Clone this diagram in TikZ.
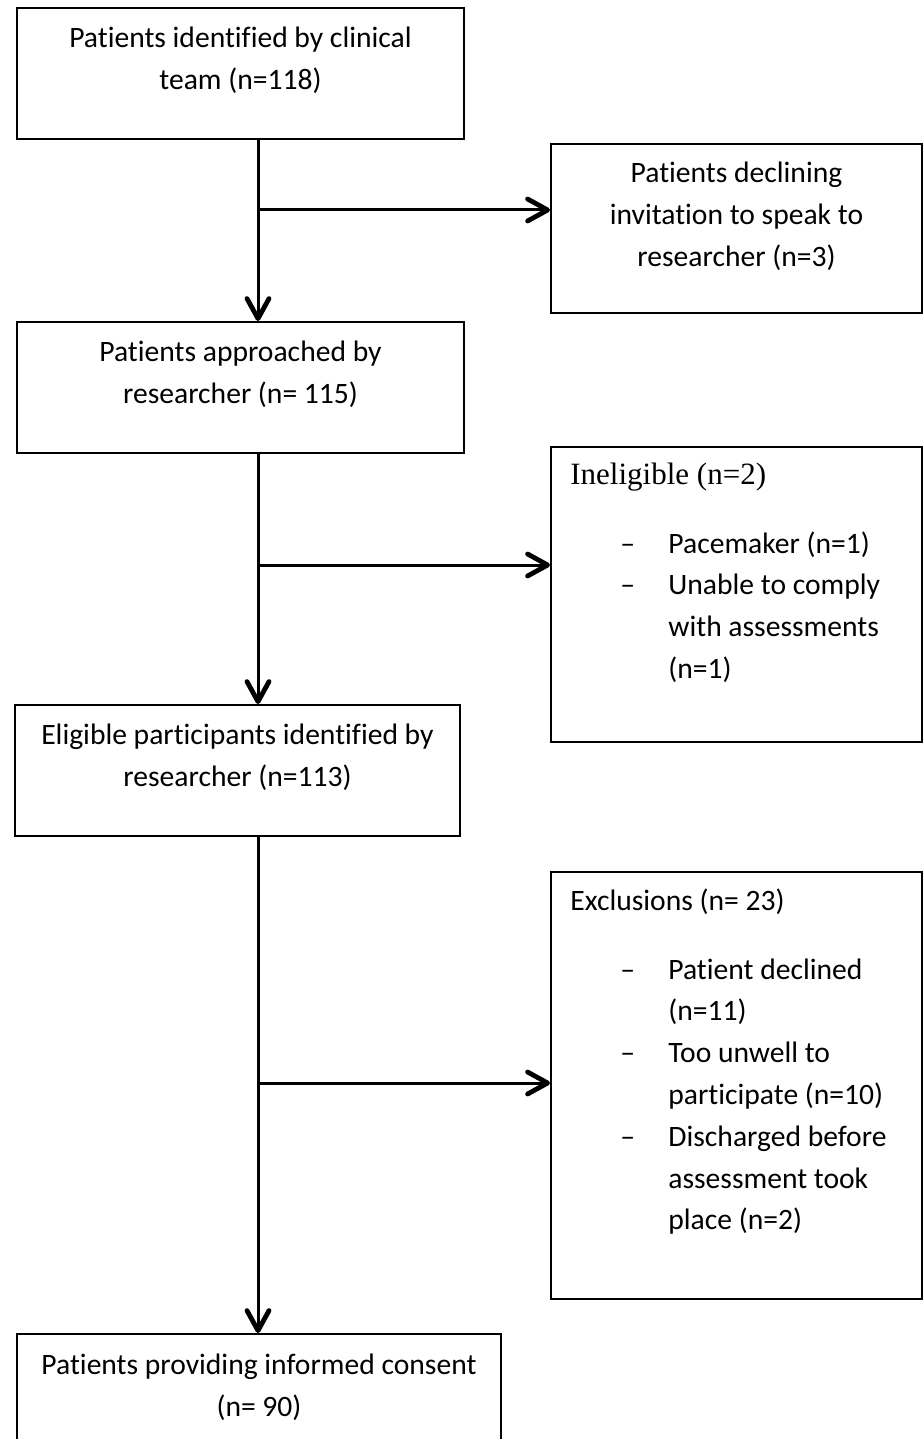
\documentclass[tikz,border=0pt]{standalone}
\usepackage{fontspec}
\setmainfont{Carlito}[Ligatures={NoCommon}]
\newfontfamily\titlefont{Liberation Serif}
\usetikzlibrary{arrows.meta,positioning}

\tikzset{
    flowbox/.style={draw, line width=1pt, inner sep=0pt, anchor=north west},
    boxtext/.style={inner sep=0pt, anchor=north, align=center,
        font=\fontsize{14.8pt}{20.9pt}\selectfont},
    titletext/.style={inner sep=0pt, font=\titlefont\fontsize{15.5pt}{20.9pt}\selectfont},
    listtext/.style={inner sep=0pt, font=\fontsize{14.8pt}{20.9pt}\selectfont},
    conn/.style={line width=1.5pt,
        -{Straight Barb[length=10pt,width=11pt,line width=2.4pt,round]}}
}
\newenvironment{dashlist}{\begin{tabular}[t]{@{}p{24pt}@{}l@{}}}{\end{tabular}}

\begin{document}
\begin{tikzpicture}[x=0.5pt,y=-0.5pt]
        \useasboundingbox (0,0) rectangle (923,1439);
        \clip (0,0) rectangle (923,1439);
        % The boxes of the main column
        \node[flowbox, minimum width=223.5pt, minimum height=65.5pt] (box1) at (16,7) {};
        \node[flowbox, minimum width=223.5pt, minimum height=65.5pt] (box3) at (16,321) {};
        \node[flowbox, minimum width=222.5pt, minimum height=65.5pt] (box5) at (14,704) {};
        \node[flowbox, minimum width=242pt, minimum height=70pt] (box7) at (16,1333) {};
        % The boxes on the right
        \node[flowbox, minimum width=185.5pt, minimum height=84.5pt] (box2) at (550,143) {};
        \node[flowbox, minimum width=185.5pt, minimum height=147.5pt] (box4) at (550,446) {};
        \node[flowbox, minimum width=185.5pt, minimum height=213.5pt] (box6) at (550,871) {};
        % Texts of the main column
        \node[boxtext, below=10pt of box1.north] (txt1)
            {Patients identified by clinical\\team (n=118)};
        \node[boxtext, below=10pt of box3.north] (txt3)
            {Patients approached by\\researcher (n= 115)};
        \node[boxtext, below=10pt of box5.north] (txt5)
            {Eligible participants identified by\\researcher (n=113)};
        \node[boxtext, below=10.5pt of box7.north] (txt7)
            {Patients providing informed consent\\(n= 90)};
        % Texts on the right
        \node[boxtext, below=9.5pt of box2.north] (txt2)
            {Patients declining\\invitation to speak to\\researcher (n=3)};
        \node[titletext, below right=8.5pt and 10pt of box4.north west] (ttl4)
            {Ineligible (n=2)};
        \node[listtext, below right=53.5pt and 35pt of box4.north west, anchor=base west] (lst4)
            {\begin{dashlist}
             -- & Pacemaker (n=1)\\
             -- & Unable to comply\\
                & with assessments\\
                & (n=1)
             \end{dashlist}};
        \node[boxtext, below right=8.5pt and 10pt of box6.north west, anchor=north west] (ttl6)
            {Exclusions (n= 23)};
        \node[listtext, below right=54pt and 35pt of box6.north west, anchor=base west] (lst6)
            {\begin{dashlist}
             -- & Patient declined\\
                & (n=11)\\
             -- & Too unwell to\\
                & participate (n=10)\\
             -- & Discharged before\\
                & assessment took\\
                & place (n=2)
             \end{dashlist}};
        % The spine and its branches
        \coordinate (spine) at (258,0);
        \coordinate (br1) at (258,210);
        \coordinate (br2) at (258,565);
        \coordinate (br3) at (258,1083);
        \draw[conn] (spine |- box1.south) -- (spine |- box3.north);
        \draw[conn] (spine |- box3.south) -- (spine |- box5.north);
        \draw[conn] (spine |- box5.south) -- (spine |- box7.north);
        \draw[conn] (br1) -- (br1 -| box2.west);
        \draw[conn] (br2) -- (br2 -| box4.west);
        \draw[conn] (br3) -- (br3 -| box6.west);
    \end{tikzpicture}
\end{document}
